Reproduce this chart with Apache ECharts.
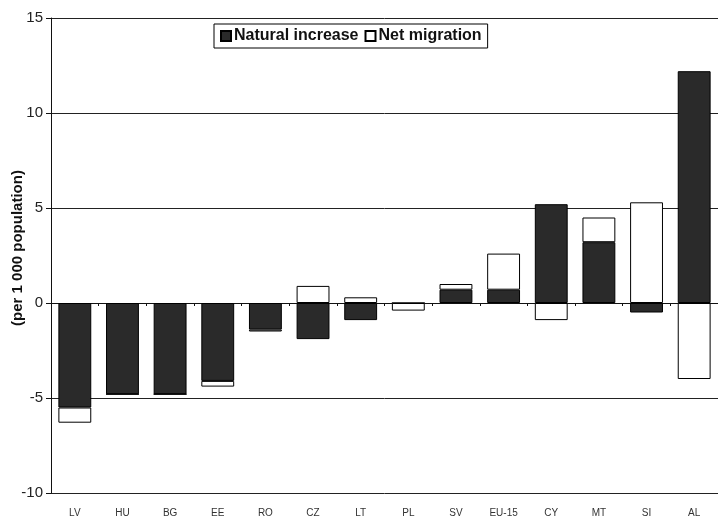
<!DOCTYPE html>
<html>
<head>
<meta charset="utf-8">
<script src="https://cdn.jsdelivr.net/npm/echarts@6/dist/echarts.min.js"></script>
<style>
html,body{margin:0;padding:0;background:#fff;}
#c{width:718px;height:518px;}
</style>
</head>
<body>
<div id="c"></div>
<script>
var categories = ['LV','HU','BG','EE','RO','CZ','LT','PL','SV','EU-15','CY','MT','SI','AL'];
var naturalIncrease = [-5.5,-4.8,-4.8,-4.1,-1.4,-1.9,-0.9,0,0.7,0.7,5.2,3.2,-0.5,12.2];
var netMigration = [-0.8,0,0,-0.3,-0.1,0.9,0.3,-0.4,0.3,1.9,-0.9,1.3,5.3,-4.0];
var yTicks = {min:-10, max:15, interval:5};

var chart = echarts.init(document.getElementById('c'), null, {renderer:'canvas'});
chart.setOption({
  backgroundColor:'#ffffff',
  animation:false,
  textStyle:{fontFamily:'Liberation Sans, Arial, sans-serif'},
  grid:{left:51, right:-13, top:18, bottom:22, containLabel:false},
  legend:{
    left:214, top:24,
    padding:[4,6,4,6],
    itemWidth:10, itemHeight:10, itemGap:6,
    borderColor:'#000', borderWidth:1, borderRadius:0,
    backgroundColor:'#fff',
    icon:'rect',
    textStyle:{fontSize:16, fontWeight:'bold', color:'#111', padding:[0,0,0,-2]},
    data:['Natural increase','Net migration']
  },
  graphic:[{
    type:'text',
    x:18, y:248,
    rotation:Math.PI/2,
    style:{
      text:'(per 1 000 population)',
      font:'bold 15px Liberation Sans, Arial, sans-serif',
      fill:'#111',
      textAlign:'center',
      textVerticalAlign:'middle'
    }
  }],
  xAxis:[{
    type:'category',
    data:categories,
    position:'bottom',
    axisLine:{show:false, onZero:false},
    axisTick:{show:false},
    axisLabel:{fontSize:10, color:'#333', margin:15, interval:0}
  },{
    type:'category',
    data:categories,
    position:'bottom',
    axisLine:{show:true, onZero:true, lineStyle:{color:'#111', width:1}},
    axisTick:{show:true, length:3, inside:false, lineStyle:{color:'#111'}},
    axisLabel:{show:false}
  }],
  yAxis:{
    type:'value',
    min:yTicks.min, max:yTicks.max, interval:yTicks.interval,
    axisLine:{show:true, lineStyle:{color:'#111', width:1}},
    axisTick:{show:true, length:5, lineStyle:{color:'#111'}},
    axisLabel:{fontSize:15, color:'#222', margin:8},
    splitLine:{show:true, lineStyle:{color:'#222', width:1}}
  },
  series:[{
    name:'Natural increase',
    type:'bar',
    stack:'total',
    xAxisIndex:0,
    barCategoryGap:'31%',
    data:naturalIncrease,
    itemStyle:{color:'#2a2a2a', borderColor:'#000', borderWidth:1}
  },{
    name:'Net migration',
    type:'bar',
    stack:'total',
    xAxisIndex:0,
    barCategoryGap:'31%',
    data:netMigration,
    itemStyle:{color:'#ffffff', borderColor:'#000', borderWidth:1}
  }]
});
</script>
</body>
</html>
